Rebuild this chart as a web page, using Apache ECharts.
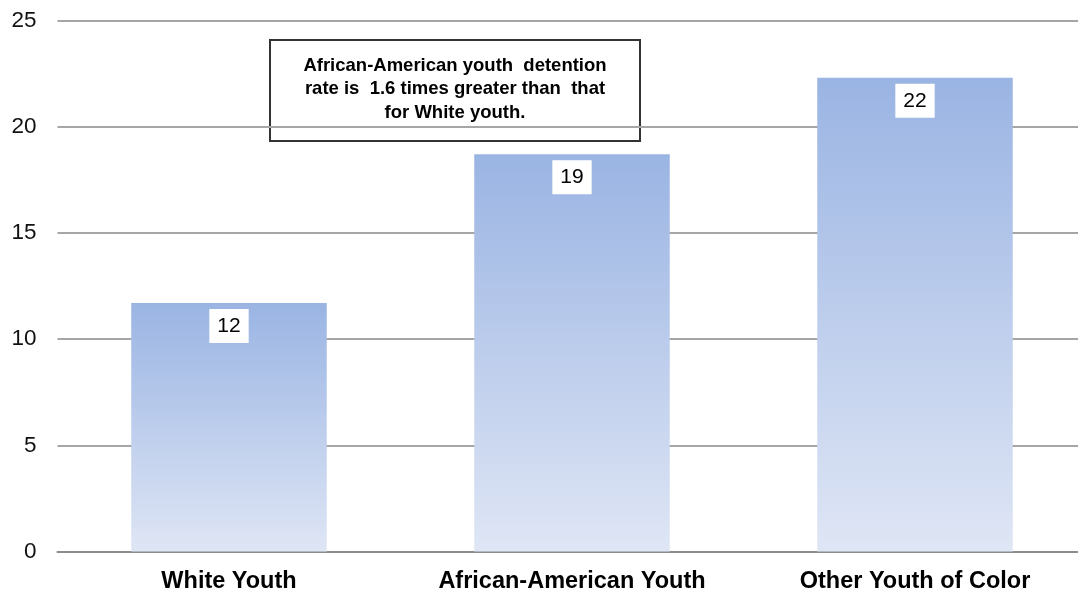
<!DOCTYPE html>
<html>
<head>
<meta charset="utf-8">
<script src="https://cdn.jsdelivr.net/npm/echarts@6/dist/echarts.min.js"></script>
<style>
  html, body { margin: 0; padding: 0; background: #fff; }
  #chart { width: 1078px; height: 593px; }
</style>
</head>
<body>
<div id="chart"></div>
<script>
// Youth detention rates by group
const categories = ['White Youth', 'African-American Youth', 'Other Youth of Color'];
const rates = [11.7, 18.7, 22.3];
const yTicks = { min: 0, max: 25, interval: 5 };
const noteLines = [
  'African-American youth  detention',
  'rate is  1.6 times greater than  that',
  'for White youth.'
];

const FONT = '"Liberation Sans", Arial, sans-serif';
const chart = echarts.init(document.getElementById('chart'));

chart.setOption({
  backgroundColor: '#ffffff',
  animation: false,
  grid: {
    left: 57.5, width: 1029, top: 20.5, bottom: 41.5,
    containLabel: false, outerBoundsMode: 'none'
  },
  xAxis: {
    type: 'category',
    data: categories,
    axisTick: { show: false },
    axisLine: { show: true, lineStyle: { color: '#8c8c8c', width: 2 } },
    axisLabel: {
      interval: 0,
      color: '#000', fontFamily: FONT, fontSize: 23.5, fontWeight: 'bold', margin: 18
    }
  },
  yAxis: {
    type: 'value',
    min: yTicks.min, max: yTicks.max, interval: yTicks.interval,
    axisLine: { show: false },
    axisTick: { show: false },
    splitLine: { lineStyle: { color: '#a6a6a6', width: 2 } },
    axisLabel: { color: '#111', fontFamily: FONT, fontSize: 22.5, margin: 21 }
  },
  series: [{
    type: 'bar',
    data: rates,
    barWidth: '57%',
    itemStyle: {
      color: new echarts.graphic.LinearGradient(0, 0, 0, 1, [
        { offset: 0, color: '#9ab4e3' },
        { offset: 1, color: '#dfe6f5' }
      ])
    },
    label: {
      show: true,
      position: 'insideTop',
      distance: 6,
      formatter: p => Math.round(p.value),
      color: '#000',
      fontFamily: FONT,
      fontSize: 21,
      lineHeight: 22,
      backgroundColor: '#ffffff',
      padding: [6, 8, 6, 8]
    }
  }],
  graphic: [{
    type: 'group',
    left: 269,
    top: 39,
    children: [{
      type: 'rect',
      shape: { x: 0, y: 0, width: 370, height: 101 },
      style: { fill: '#ffffff', stroke: '#333333', lineWidth: 2 }
    }, {
      type: 'text',
      x: 185,
      y: 14,
      style: {
        text: noteLines.join('\n'),
        fill: '#000',
        font: 'bold 18.5px ' + FONT,
        lineHeight: 23.5,
        align: 'center',
        verticalAlign: 'top'
      }
    }]
  }]
});
</script>
</body>
</html>
